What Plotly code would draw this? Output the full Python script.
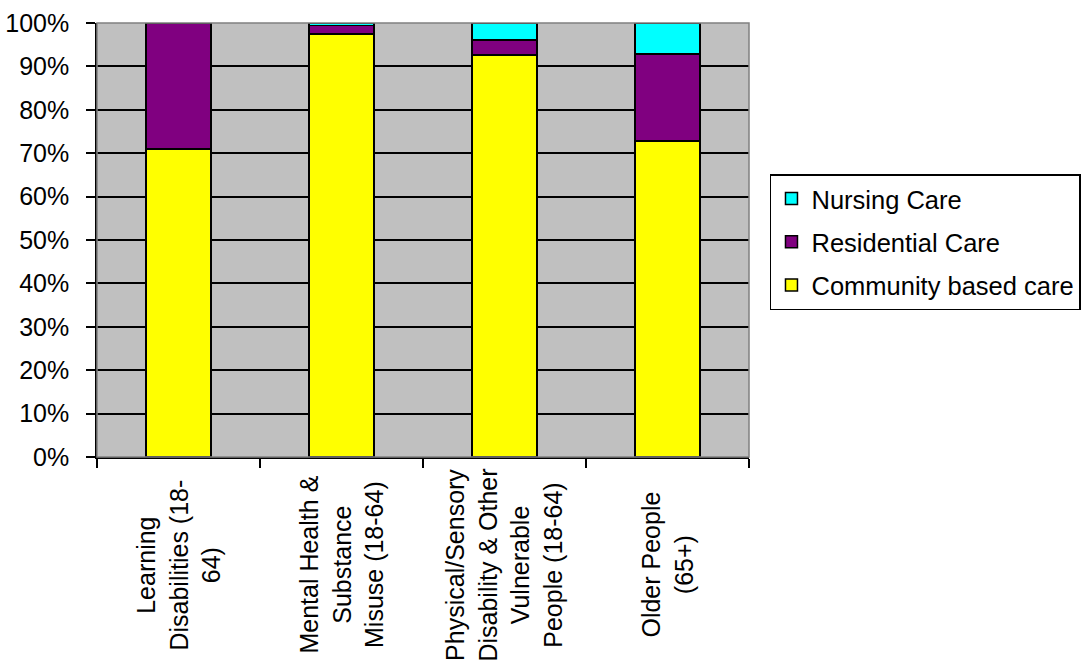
import plotly.graph_objects as go

# Client groups (x categories), labels broken over lines as printed
categories = [
    "Learning<br>Disabilities (18-<br>64)",
    "Mental Health &<br>Substance<br>Misuse (18-64)",
    "Physical/Sensory<br>Disability & Other<br>Vulnerable<br>People (18-64)",
    "Older People<br>(65+)",
]

# Share of each care type, percent of clients
community = [71.0, 97.5, 92.6, 72.8]
residential = [29.0, 1.9, 3.5, 20.1]
nursing = [0.0, 0.6, 3.9, 7.1]

series_names = ["Community based care", "Residential Care", "Nursing Care"]
series_colors = ["#FFFF00", "#800080", "#00FFFF"]
legend_ranks = [3, 2, 1]

y_ticks = [0, 10, 20, 30, 40, 50, 60, 70, 80, 90, 100]
y_tick_labels = [f"{v}%" for v in y_ticks]

FONT = "Liberation Sans, Arial, sans-serif"
FS = 25

xpos = list(range(len(categories)))

fig = go.Figure()
for name, vals, col, rank in zip(series_names, [community, residential, nursing],
                                 series_colors, legend_ranks):
    fig.add_trace(go.Bar(
        x=xpos, y=vals, name=name, legendgroup=name, legendrank=rank,
        marker=dict(color=col, line=dict(color="#000000", width=1.5)),
        width=0.4,
    ))

# Category labels under the axis, rotated and centred
for i, lab in enumerate(categories):
    fig.add_annotation(
        x=i, xref="x", y=-0.249, yref="paper",
        text=lab, textangle=-90, showarrow=False,
        xanchor="center", yanchor="middle", align="center",
        font=dict(family=FONT, size=FS, color="#000000"),
    )

# Plot-area frame
fig.add_shape(type="rect", xref="paper", yref="paper", x0=0, y0=0, x1=1, y1=1,
              line=dict(color="#808080", width=1.5), layer="above")

fig.update_layout(
    width=1088, height=668,
    margin=dict(l=97, r=339, t=23, b=211, autoexpand=False),
    barmode="stack",
    paper_bgcolor="#FFFFFF",
    plot_bgcolor="#C0C0C0",
    font=dict(family=FONT, size=FS, color="#000000"),
    showlegend=True,
    legend=dict(
        xref="container", yref="container",
        x=0.7077, y=0.7395, xanchor="left", yanchor="top",
        traceorder="grouped", tracegroupgap=7,
        bgcolor="#FFFFFF", bordercolor="#000000", borderwidth=1.5,
        font=dict(family=FONT, size=25.5, color="#000000"),
        itemwidth=30,
    ),
    xaxis=dict(
        range=[-0.5, len(categories) - 0.5],
        tickvals=[i - 0.5 for i in range(len(categories) + 1)],
        ticktext=[""] * (len(categories) + 1),
        ticks="outside", ticklen=9, tickwidth=1.5, tickcolor="#000000",
        showgrid=False, zeroline=False, automargin=False,
        showline=True, linecolor="#000000", linewidth=1.5,
    ),
    yaxis=dict(
        range=[0, 100],
        tickvals=y_ticks, ticktext=y_tick_labels,
        ticks="outside", ticklen=9, tickwidth=1.5, tickcolor="#000000",
        ticklabelstandoff=12, automargin=False,
        showgrid=True, gridcolor="#000000", gridwidth=1.5,
        zeroline=False,
        showline=True, linecolor="#000000", linewidth=1.5,
    ),
)

fig.write_html("out.html")
